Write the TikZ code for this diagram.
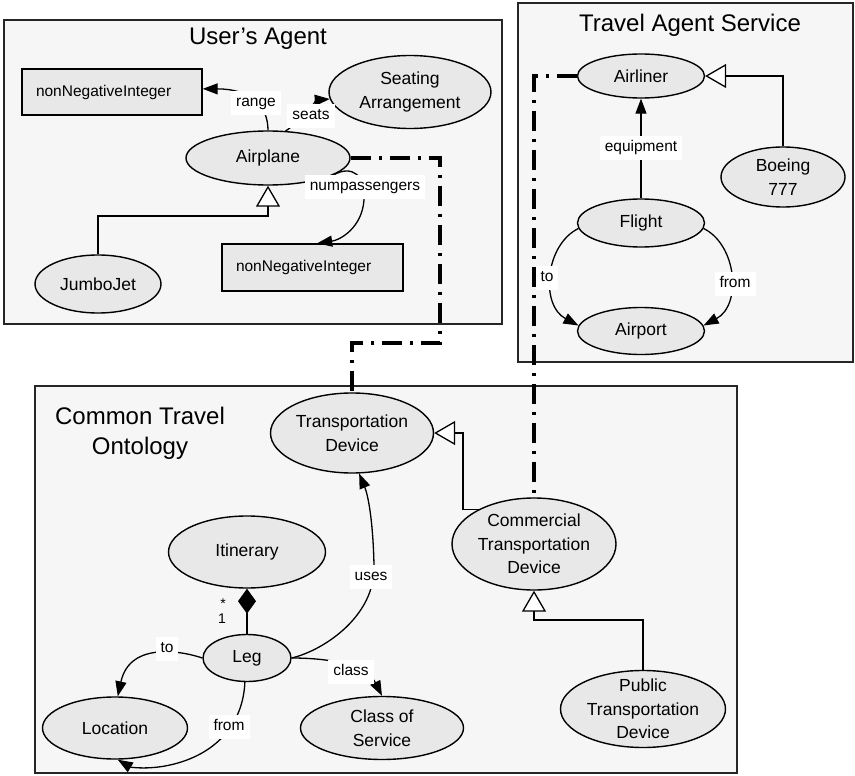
\documentclass[tikz,border=0pt]{standalone}
\usepackage{fontspec}
\setmainfont{Liberation Sans}
\usetikzlibrary{arrows.meta,shapes.geometric}
\definecolor{boxfill}{RGB}{246,246,246}
\definecolor{nodefill}{RGB}{232,232,232}
\begin{document}
\begin{tikzpicture}[x=1pt,y=-1pt,
  region/.style={draw=black!85, line width=1.6pt, fill=boxfill},
  ell/.style={ellipse, draw, line width=1.4pt, fill=nodefill, inner sep=0pt, align=center, font=\fontsize{17.5}{23.5}\selectfont},
  rbox/.style={rectangle, draw, line width=1.4pt, fill=nodefill, inner ysep=0pt, inner xsep=14pt, align=left, font=\fontsize{15.5}{18}\selectfont},
  title/.style={font=\fontsize{24}{30}\selectfont, align=center, inner sep=0pt},
  lbl/.style={fill=white, inner xsep=5pt, inner ysep=5pt, font=\fontsize{15.5}{18}\selectfont, text height=11pt, text depth=3.5pt},
  mult/.style={inner sep=0pt, font=\fontsize{14}{16}\selectfont},
  conn/.style={line width=1.3pt},
  arr/.style={conn, -{Triangle[length=15pt,width=11pt]}},
  gen/.style={conn, -{Triangle[length=21pt,width=24pt,fill=white]}},
  comp/.style={conn, -{Diamond[length=25pt,width=18pt]}},
  link/.style={line width=3.8pt, dash pattern=on 20pt off 8pt on 3pt off 8pt},
]
\useasboundingbox (0,0) rectangle (855,776);
\fill[white] (0,0) rectangle (855,776);

% regions
\path[region] (4,20) rectangle (502,324);
\path[region] (518,3) rectangle (853,362);
\path[region] (35,386) rectangle (737,773);

% titles
\node[title, anchor=base] (tUser) at (258,45) {User’s Agent};
\node[title, anchor=base] (tTravel) at (690,32) {Travel Agent Service};
\node[title] (tCommon) at (140,433) {Common Travel\\Ontology};

% User's Agent
\node[ell, minimum width=162pt, minimum height=73pt] (seat) at (410,92) {Seating\\Arrangement};
\node[ell, minimum width=164pt, minimum height=54pt] (plane) at (268,158) {Airplane};
\node[ell, minimum width=126pt, minimum height=58pt] (jumbo) at (98,284) {JumboJet};
\node[rbox, minimum width=180pt, minimum height=46pt, text width=152pt] (nni1) at (112,92) {nonNegativeInteger};
\node[rbox, minimum width=181pt, minimum height=47pt, text width=153pt] (nni2) at (312.5,267.5) {nonNegativeInteger};

% Travel Agent Service
\node[ell, minimum width=127pt, minimum height=44pt] (airliner) at (641,76) {Airliner};
\node[ell, minimum width=124pt, minimum height=60pt] (boeing) at (783,177) {Boeing\\777};
\node[ell, minimum width=127pt, minimum height=48pt] (flight) at (641,223) {Flight};
\node[ell, minimum width=127pt, minimum height=47pt] (airport) at (641,331) {Airport};

% Common Travel Ontology
\node[ell, minimum width=163pt, minimum height=80pt] (td) at (352,433) {Transportation\\Device};
\node[ell, minimum width=157pt, minimum height=72pt] (itin) at (247,552) {Itinerary};
\node[ell, minimum width=88pt, minimum height=47pt] (leg) at (247,658) {Leg};
\node[ell, minimum width=145pt, minimum height=62pt] (loc) at (115,728) {Location};
\node[ell, minimum width=163pt, minimum height=63pt] (cos) at (382,728) {Class of\\Service};
\node[ell, minimum width=164pt, minimum height=92pt] (ctd) at (534,544) {Commercial\\Transportation\\Device};
\node[ell, minimum width=165pt, minimum height=77pt, inner ysep=-8pt] (ptd) at (643,709) {Public\\Transportation\\Device};

% coordinates for bends
\coordinate (g0) at (268,216);
\coordinate (g1) at (463,433);
\coordinate (g2) at (534,620);
\coordinate (k1) at (440,343);

% User's Agent connectors
\draw[arr] (plane.north) .. controls (268,105) and (250,89) .. (nni1.2);
\draw[arr] (plane.57) .. controls (300,122) and (318,100) .. (seat.185);
\draw[arr] (plane.-14) .. controls (352,165) and (366,175) .. (364,200) .. controls (362,228) and (340,240) .. (nni2.79);
\draw[gen] (jumbo.north) |- (g0) -- (plane.south);

% Travel Agent connectors
\draw[arr] (flight.north) -- (airliner.south);
\draw[gen] (boeing.north) |- (airliner.east);
\draw[arr] (flight.185) .. controls (545,245) and (540,305) .. (airport.175);
\draw[arr] (flight.-5) .. controls (737,245) and (742,305) .. (airport.5);

% links between agents
\draw[link] (plane.east) -| (k1) -| (td.north);
\draw[link] (airliner.west) -| (ctd.north);

% Common Travel connectors
\draw[gen] (ctd.148) -| (g1) -- (td.east);
\draw[gen] (ptd.north) |- (g2) -- (ctd.south);
\draw[comp] (leg.north) -- (itin.south);
\draw[arr] (leg.east) .. controls (325,650) and (376,615) .. (374,565) .. controls (373,520) and (368,495) .. (td.-80);
\draw[arr] (leg.east) .. controls (320,658) and (365,662) .. (cos.north);
\draw[arr] (leg.west) .. controls (185,652) and (130,640) .. (loc.85);
\draw[arr] (leg.-95) .. controls (243,725) and (215,755) .. (170,765) .. controls (148,770) and (130,767) .. (loc.-85);

% multiplicities
\node[mult] (mstar) at (223,604) {*};
\node[mult] (mone) at (222,619) {1};

% labels
\node[lbl] (lrange) at (256,103) {range};
\node[lbl] (lseats) at (311,116) {seats};
\node[lbl] (lnum) at (365,187) {numpassengers};
\node[lbl] (lequip) at (641,148) {equipment};
\node[lbl] (lto1) at (547,278) {to};
\node[lbl] (lfrom1) at (735,284) {from};
\node[lbl] (luses) at (371,577) {uses};
\node[lbl] (lclass) at (351,672) {class};
\node[lbl] (lto2) at (167,649) {to};
\node[lbl] (lfrom2) at (229,727) {from};
\end{tikzpicture}
\end{document}
